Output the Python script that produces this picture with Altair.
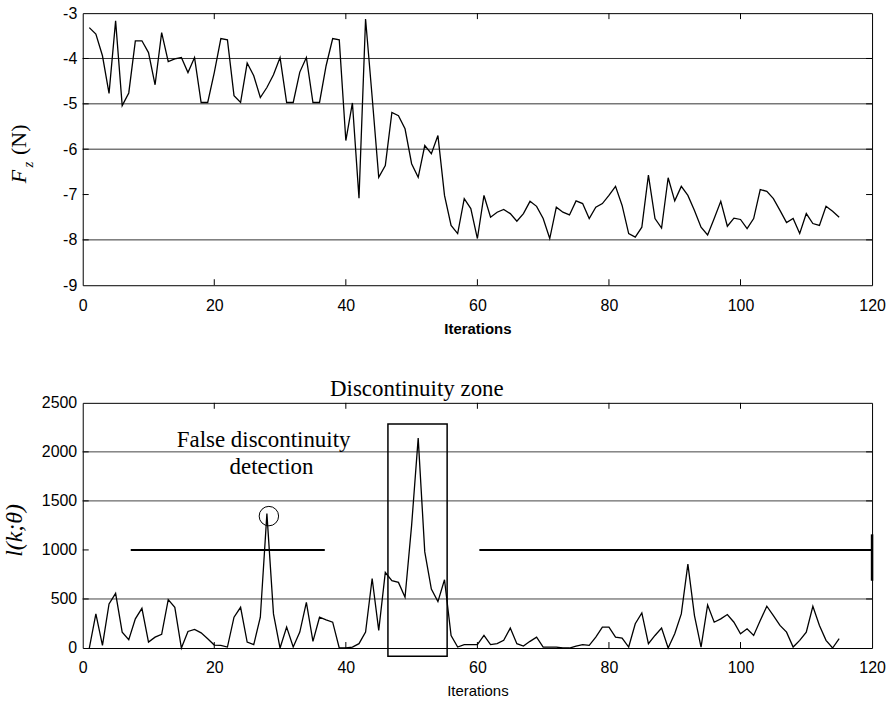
import altair as alt
import pandas as pd

# ---------------- data ----------------
iterations = list(range(1, 116))

fz = [-3.32, -3.46, -3.94, -4.77, -3.17, -5.04, -4.76, -3.61, -3.61, -3.87,
      -4.58, -3.43, -4.07, -4.01, -3.98, -4.31, -3.98, -4.97, -4.97, -4.31,
      -3.56, -3.59, -4.82, -4.97, -4.10, -4.38, -4.86, -4.64, -4.36, -3.98,
      -4.97, -4.97, -4.30, -3.98, -4.97, -4.97, -4.16, -3.56, -3.59, -5.81,
      -4.98, -7.08, -3.13, -4.85, -6.62, -6.36, -5.19, -5.26, -5.55, -6.32,
      -6.62, -5.92, -6.10, -5.70, -7.02, -7.68, -7.86, -7.09, -7.31, -7.97,
      -7.02, -7.50, -7.39, -7.33, -7.42, -7.59, -7.42, -7.15, -7.26, -7.53,
      -7.97, -7.28, -7.39, -7.45, -7.14, -7.20, -7.53, -7.28, -7.20, -7.02,
      -6.82, -7.24, -7.86, -7.94, -7.72, -6.57, -7.53, -7.74, -6.63, -7.14,
      -6.82, -7.02, -7.35, -7.72, -7.89, -7.53, -7.15, -7.70, -7.52, -7.55,
      -7.75, -7.53, -6.89, -6.93, -7.09, -7.35, -7.62, -7.53, -7.86, -7.42,
      -7.64, -7.68, -7.26, -7.37, -7.50]

lk = [0, 348, 27, 449, 557, 162, 84, 297, 405, 61,
      111, 139, 493, 415, 0, 169, 189, 155, 95, 30,
      27, 10, 314, 415, 61, 34, 314, 1370, 348, 0,
      213, 10, 162, 466, 68, 314, 287, 263, 0, 0,
      10, 44, 162, 709, 179, 770, 686, 669, 517, 1250,
      2140, 980, 601, 473, 696, 128, 10, 34, 34, 34,
      128, 34, 44, 78, 203, 44, 20, 68, 111, 10,
      10, 10, 0, 0, 20, 34, 27, 111, 213, 213,
      111, 101, 10, 247, 358, 44, 128, 203, 0, 145,
      348, 855, 331, 10, 439, 263, 297, 341, 263, 145,
      196, 128, 280, 426, 331, 230, 162, 10, 78, 162,
      426, 230, 78, 0, 95]

x_ticks = [0, 20, 40, 60, 80, 100, 120]
fz_ticks = [-9, -8, -7, -6, -5, -4, -3]
fz_grid = [-4, -5, -6, -8]
lk_ticks = [0, 500, 1000, 1500, 2000, 2500]
lk_grid = [500, 1500, 2000]

# threshold segments at 1000
thr_start = [7.3, 60.3]
thr_end = [36.8, 120]
thr_level = [1000, 1000]
# right-edge bar
bar_x = [120]
bar_lo = [686]
bar_hi = [1159]
# discontinuity zone box
zone_x = [46.4]
zone_x2 = [55.4]
zone_lo = [-85]
zone_hi = [2285]
# false detection circle
circ_x = [28.3]
circ_y = [1345]
# annotation texts
ann_text = ["Discontinuity zone", "False discontinuity", "detection"]
ann_x = [50.8, 27.5, 28.7]
ann_y = [2645, 2125, 1850]

# ---------------- layout ----------------
W = 792
H1 = 273
H2 = 246
SANS = "Liberation Sans"
SERIF = "Liberation Serif"

xscale = alt.Scale(domain=[0, 120], nice=False, zero=False)
yscale1 = alt.Scale(domain=[-9, -3], nice=False, zero=False)
yscale2 = alt.Scale(domain=[0, 2500], nice=False)


def xaxis(bold):
    return alt.Axis(values=x_ticks, title="Iterations", labelFlush=False, ticks=False,
                    domain=False, grid=False, labelFont=SANS, labelFontSize=16,
                    labelColor="black", labelPadding=12, labelExpr="datum.value + ''",
                    titleFont=SANS, titleFontSize=15,
                    titleFontWeight="bold" if bold else "normal",
                    titleColor="black", titlePadding=8)


def yaxis(vals):
    return alt.Axis(values=vals, title=None, ticks=False, domain=False, grid=False,
                    labelFont=SANS, labelFontSize=16, labelColor="black",
                    labelPadding=6, labelExpr="datum.value + ''")


XA1 = xaxis(True)
XA2 = xaxis(False)
YA1 = yaxis(fz_ticks)
YA2 = yaxis(lk_ticks)


def edge_ticks(xvals, yvals, yscale, h, xa, ya):
    dx = pd.DataFrame({"t": xvals})
    dy = pd.DataFrame({"t": yvals})
    L = 6
    layers = []
    for a, b in [(0, L), (h, h - L)]:
        layers.append(alt.Chart(dx).mark_rule(color="black", strokeWidth=1).encode(
            x=alt.X("t:Q", scale=xscale, axis=xa),
            y=alt.value(a), y2=alt.value(b)))
    for a, b in [(0, L), (W, W - L)]:
        layers.append(alt.Chart(dy).mark_rule(color="black", strokeWidth=1).encode(
            y=alt.Y("t:Q", scale=yscale, axis=ya),
            x=alt.value(a), x2=alt.value(b)))
    return layers


# ---------------- top panel ----------------
df_fz = pd.DataFrame({"it": iterations, "fz": fz})
grid1 = alt.Chart(pd.DataFrame({"g": fz_grid})).mark_rule(color="#333", strokeWidth=1).encode(
    y=alt.Y("g:Q", scale=yscale1, axis=YA1))
line1 = alt.Chart(df_fz).mark_line(color="black", strokeWidth=1.3).encode(
    x=alt.X("it:Q", scale=xscale, axis=XA1),
    y=alt.Y("fz:Q", scale=yscale1, axis=YA1))

lab_df = pd.DataFrame({"s": ["F", "z", "(N)"]})
tF = alt.Chart(lab_df.iloc[[0]]).mark_text(font=SERIF, fontSize=22, fontStyle="italic",
                                          angle=270, align="center", baseline="middle",
                                          color="black").encode(
    text="s:N", x=alt.value(-64), y=alt.value(164))
tz = alt.Chart(lab_df.iloc[[1]]).mark_text(font=SERIF, fontSize=15, fontStyle="italic",
                                          angle=270, align="center", baseline="middle",
                                          color="black").encode(
    text="s:N", x=alt.value(-55), y=alt.value(152))
tN = alt.Chart(lab_df.iloc[[2]]).mark_text(font=SERIF, fontSize=22,
                                          angle=270, align="center", baseline="middle",
                                          color="black").encode(
    text="s:N", x=alt.value(-64), y=alt.value(127))

top = alt.layer(grid1, line1, *edge_ticks(x_ticks[1:-1], fz_ticks[1:-1], yscale1, H1, XA1, YA1),
                tF, tz, tN).properties(width=W, height=H1)

# ---------------- bottom panel ----------------
df_lk = pd.DataFrame({"it": iterations, "lk": lk})
grid2 = alt.Chart(pd.DataFrame({"g": lk_grid})).mark_rule(color="#444", strokeWidth=1).encode(
    y=alt.Y("g:Q", scale=yscale2, axis=YA2))
thr = alt.Chart(pd.DataFrame({"a": thr_start, "b": thr_end, "v": thr_level})).mark_rule(
    color="black", strokeWidth=2).encode(
    x=alt.X("a:Q", scale=xscale, axis=XA2), x2="b:Q",
    y=alt.Y("v:Q", scale=yscale2, axis=YA2))
bar = alt.Chart(pd.DataFrame({"x": bar_x, "lo": bar_lo, "hi": bar_hi})).mark_rule(
    color="black", strokeWidth=2.5).encode(
    x=alt.X("x:Q", scale=xscale, axis=XA2),
    y=alt.Y("lo:Q", scale=yscale2, axis=YA2), y2="hi:Q")
line2 = alt.Chart(df_lk).mark_line(color="black", strokeWidth=1.3).encode(
    x=alt.X("it:Q", scale=xscale, axis=XA2),
    y=alt.Y("lk:Q", scale=yscale2, axis=YA2))
box = alt.Chart(pd.DataFrame({"a": zone_x, "b": zone_x2, "lo": zone_lo, "hi": zone_hi})).mark_rect(
    fillOpacity=0, stroke="black", strokeWidth=1.5).encode(
    x=alt.X("a:Q", scale=xscale, axis=XA2), x2="b:Q",
    y=alt.Y("lo:Q", scale=yscale2, axis=YA2), y2="hi:Q")
circ = alt.Chart(pd.DataFrame({"x": circ_x, "y": circ_y})).mark_point(
    shape="circle", size=380, filled=False, color="black", strokeWidth=1, opacity=1).encode(
    x=alt.X("x:Q", scale=xscale, axis=XA2),
    y=alt.Y("y:Q", scale=yscale2, axis=YA2))
ann = alt.Chart(pd.DataFrame({"s": ann_text, "x": ann_x, "y": ann_y})).mark_text(
    font=SERIF, fontSize=23, align="center", baseline="middle", color="black").encode(
    text="s:N",
    x=alt.X("x:Q", scale=xscale, axis=XA2),
    y=alt.Y("y:Q", scale=yscale2, axis=YA2))
tl = alt.Chart(pd.DataFrame({"s": ["l(k;θ)"]})).mark_text(
    font=SERIF, fontSize=24, fontStyle="italic", angle=270, align="center",
    baseline="middle", color="black").encode(
    text="s:N", x=alt.value(-68), y=alt.value(128))

bottom = alt.layer(grid2, thr, bar, line2, box, circ, ann, tl,
                   *edge_ticks(x_ticks[1:-1], lk_ticks[1:-1], yscale2, H2, XA2, YA2)).properties(
    width=W, height=H2)

chart = alt.vconcat(top, bottom, spacing=40).properties(
    padding={"left": 2, "top": 3, "right": 5, "bottom": 5},
    background="white",
).configure_view(stroke="black", strokeWidth=1)

chart.save("out.html", embed_options={"renderer": "svg", "actions": False})
